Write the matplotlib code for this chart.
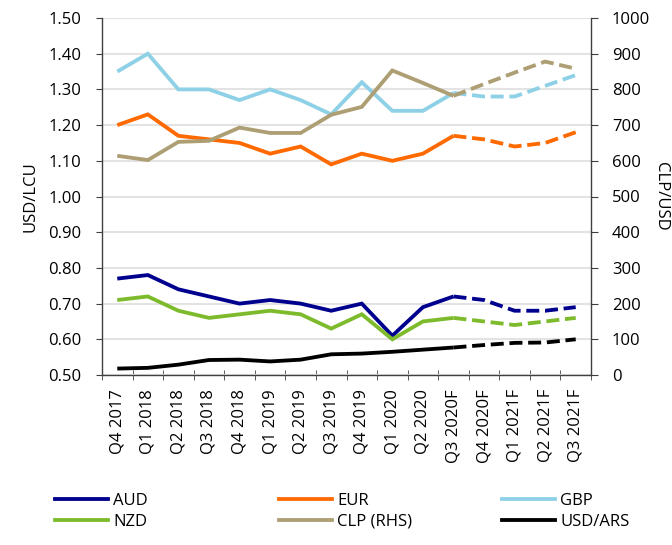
import numpy as np
import matplotlib
matplotlib.use("Agg")
import matplotlib.pyplot as plt
from matplotlib.lines import Line2D

plt.rcParams['font.family'] = ['Open Sans', 'DejaVu Sans']

quarters = ["Q4 2017", "Q1 2018", "Q2 2018", "Q3 2018", "Q4 2018", "Q1 2019",
            "Q2 2019", "Q3 2019", "Q4 2019", "Q1 2020", "Q2 2020", "Q3 2020F",
            "Q4 2020F", "Q1 2021F", "Q2 2021F", "Q3 2021F"]
aud = [0.77, 0.78, 0.74, 0.72, 0.70, 0.71, 0.70, 0.68, 0.70, 0.61, 0.69, 0.72, 0.71, 0.68, 0.68, 0.69]
eur = [1.20, 1.23, 1.17, 1.16, 1.15, 1.12, 1.14, 1.09, 1.12, 1.10, 1.12, 1.17, 1.16, 1.14, 1.15, 1.18]
gbp = [1.35, 1.40, 1.30, 1.30, 1.27, 1.30, 1.27, 1.23, 1.32, 1.24, 1.24, 1.29, 1.28, 1.28, 1.31, 1.34]
nzd = [0.71, 0.72, 0.68, 0.66, 0.67, 0.68, 0.67, 0.63, 0.67, 0.60, 0.65, 0.66, 0.65, 0.64, 0.65, 0.66]
clp = [614, 602, 653, 656, 693, 678, 678, 729, 751, 853, 818, 782, 815, 847, 878, 858]
usd_ars = [18, 20, 29, 42, 43, 38, 43, 58, 60, 65, 71, 77, 84, 90, 91, 100]
forecast_start = 11

colors = {"AUD": "#00008F", "EUR": "#FF6A00", "GBP": "#8ED1E6",
          "NZD": "#7DBB2C", "CLP (RHS)": "#AD9E74", "USD/ARS": "#000000"}

FS = 12
W, H = 672, 545
fig = plt.figure(figsize=(W/100, H/100), dpi=100)
L, R, T, B = 102, 591, 18, 375
ax = fig.add_axes([L/W, 1-B/H, (R-L)/W, (B-T)/H])
ax2 = ax.twinx()

x = np.arange(len(quarters))
lw = 2.75
dash = (3.4, 1.5)

def draw(axis, vals, col):
    v = np.array(vals, dtype=float)
    axis.plot(x[:forecast_start+1], v[:forecast_start+1], color=col, lw=lw,
              solid_capstyle='butt', solid_joinstyle='miter')
    axis.plot(x[forecast_start:], v[forecast_start:], color=col, lw=lw,
              dashes=dash, dash_capstyle='butt')

draw(ax, gbp, colors["GBP"])
draw(ax, eur, colors["EUR"])
draw(ax, aud, colors["AUD"])
draw(ax, nzd, colors["NZD"])
draw(ax2, clp, colors["CLP (RHS)"])
draw(ax2, usd_ars, colors["USD/ARS"])

ax.set_xlim(-0.5, len(quarters)-0.5)
ax.set_ylim(0.5, 1.5)
ax2.set_ylim(0, 1000)
yt = np.arange(0.5, 1.501, 0.1)
ax.set_yticks(yt)
ax.set_yticklabels([f"{v:.2f}" for v in yt])
ax2.set_yticks(np.arange(0, 1001, 100))

ax.yaxis.grid(True, color="#E3E3E3", lw=1.5)
ax.set_axisbelow(True)

ax.set_xticks(x)
ax.set_xticklabels(quarters, rotation=90)
ax.set_xticks(np.arange(-0.5, len(quarters), 1), minor=True)
ax.tick_params(axis='x', which='major', length=0, pad=10, labelsize=FS)
ax.tick_params(axis='x', which='minor', length=7, direction='inout', color="#404040")

for a in (ax, ax2):
    a.spines['top'].set_visible(False)
    for s in ('left', 'right', 'bottom'):
        a.spines[s].set_color("#404040")
        a.spines[s].set_linewidth(1.0)
ax.spines['right'].set_visible(False)
ax2.spines['left'].set_visible(False)
ax2.spines['bottom'].set_visible(False)

ax.tick_params(axis='y', length=4, color="#404040", labelsize=FS, pad=11)
ax2.tick_params(axis='y', length=5, color="#404040", labelsize=FS, pad=10)

fig.text(30/W, 1-197/H, "USD/LCU", rotation=90, ha='center', va='center', fontsize=FS)
fig.text(661/W, 1-196/H, "CLP/USD", rotation=270, ha='center', va='center', fontsize=FS)

columns = [["AUD", "NZD"], ["EUR", "CLP (RHS)"], ["GBP", "USD/ARS"]]
col_x = [48, 272, 495]
for names, cx in zip(columns, col_x):
    hs = [Line2D([0], [0], color=colors[k], lw=lw) for k in names]
    leg = fig.legend(hs, names, loc='upper left', ncol=1,
                     bbox_to_anchor=(cx/W, 1-486/H), frameon=False, fontsize=FS,
                     handlelength=3.2, handletextpad=0.3,
                     labelspacing=0.3, borderaxespad=0)

fig.savefig("out.png", dpi=100)
